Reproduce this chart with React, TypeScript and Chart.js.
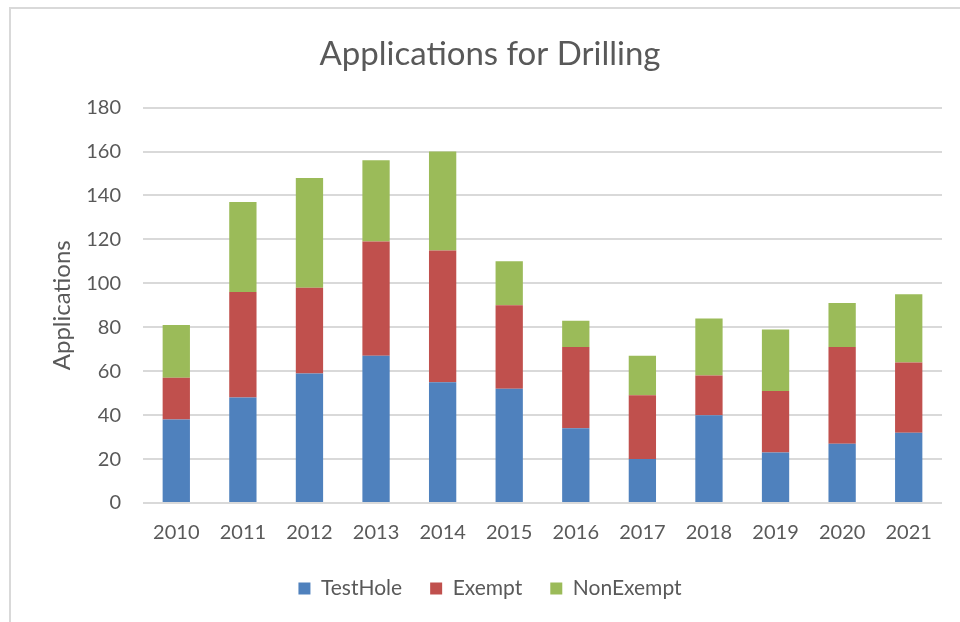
import React, { useEffect, useRef } from "react";
import { Chart, registerables } from "chart.js";

Chart.register(...registerables);

const years = ["2010", "2011", "2012", "2013", "2014", "2015", "2016", "2017", "2018", "2019", "2020", "2021"];
const testHole = [38, 48, 59, 67, 55, 52, 34, 20, 40, 23, 27, 32];
const exempt = [19, 48, 39, 52, 60, 38, 37, 29, 18, 28, 44, 32];
const nonExempt = [24, 41, 50, 37, 45, 20, 12, 18, 26, 28, 20, 31];

const FONT = "Lato, 'Open Sans', sans-serif";
const TEXT = "#595959";

export default function App() {
  const ref = useRef<HTMLCanvasElement | null>(null);

  useEffect(() => {
    if (!ref.current) return;
    const chart = new Chart(ref.current, {
      type: "bar",
      data: {
        labels: years,
        datasets: [
          { label: "TestHole", data: testHole, backgroundColor: "#4F81BD" },
          { label: "Exempt", data: exempt, backgroundColor: "#C0504D" },
          { label: "NonExempt", data: nonExempt, backgroundColor: "#9BBB59" },
        ],
      },
      options: {
        animation: false,
        responsive: false,
        maintainAspectRatio: false,
        datasets: { bar: { categoryPercentage: 1, barPercentage: 0.41 } },
        layout: { padding: { left: 38, right: 18, top: 0, bottom: 13 } },
        plugins: {
          tooltip: { enabled: false },
          title: {
            display: true,
            text: "Applications for Drilling",
            color: TEXT,
            font: { family: FONT, size: 33, weight: "normal" },
            padding: { top: 35, bottom: 33 },
          },
          legend: {
            position: "bottom",
            labels: {
              color: TEXT,
              font: { family: FONT, size: 21 },
              boxWidth: 12,
              boxHeight: 12,
              padding: 28,
            },
          },
        },
        scales: {
          x: {
            stacked: true,
            grid: { display: false, drawTicks: false },
            border: { display: false },
            ticks: { color: TEXT, font: { family: FONT, size: 20 }, padding: 18, maxRotation: 0 },
            afterFit: (s: any) => {
              s.height = 47;
            },
          },
          y: {
            stacked: true,
            min: 0,
            max: 180,
            grid: { color: "#D9D9D9", lineWidth: 2, drawTicks: false },
            border: { display: false },
            ticks: { stepSize: 20, color: TEXT, font: { family: FONT, size: 20 }, padding: 22 },
            title: {
              display: true,
              text: "Applications",
              color: TEXT,
              font: { family: FONT, size: 24 },
              padding: { top: 10, bottom: 0 },
            },
            afterFit: (s: any) => {
              s.width = 105;
            },
          },
        },
      },
    });
    return () => chart.destroy();
  }, []);

  return (
    <div style={{ position: "fixed", left: 0, top: 0, width: 960, height: 622, background: "#fff", overflow: "hidden" }}>
      <div
        style={{
          position: "absolute",
          left: 9,
          top: 7,
          width: 1000,
          height: 700,
          borderLeft: "2px solid #D9D9D9",
          borderTop: "2px solid #D9D9D9",
        }}
      />
      <canvas ref={ref} width={960} height={622} style={{ position: "absolute", left: 0, top: 0, width: 960, height: 622 }} />
    </div>
  );
}
